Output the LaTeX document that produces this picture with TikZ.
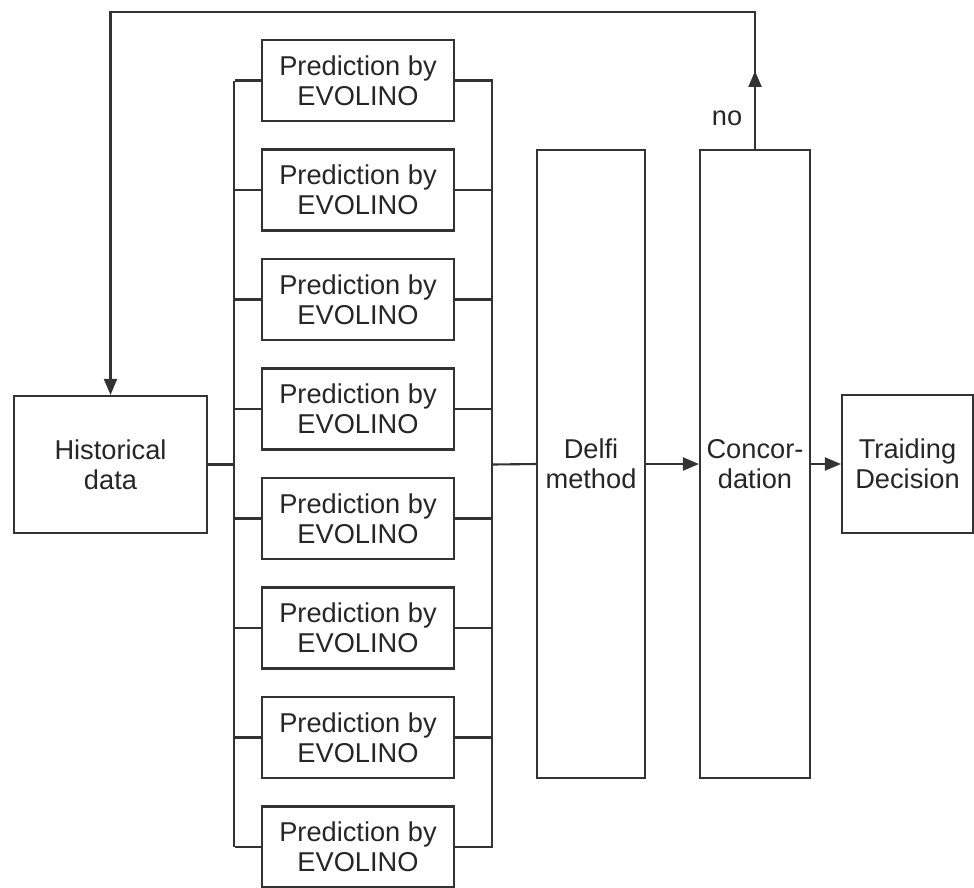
\documentclass[tikz,border=0pt]{standalone}
\usepackage{fontspec}
\setmainfont{Liberation Sans}
\usetikzlibrary{arrows.meta}

\begin{document}
\begin{tikzpicture}[
    box/.style={draw=black!80, line width=1.2pt, align=center, inner sep=0pt,
      font=\fontsize{15.5}{17}\selectfont, text=black!85},
    wire/.style={draw=black!80, line width=1.2pt},
    tip/.style={-{Triangle[length=3.2mm,width=2.6mm]}}
  ]
  \useasboundingbox (0,0) rectangle (19.48,-17.74);
  % dati e decisione
  \node[box, minimum width=3.86cm, minimum height=2.74cm] (hist) at (2.21,-9.29) {Historical\\data};
  \node[box, minimum width=2.16cm, minimum height=12.56cm] (delfi) at (11.82,-9.28) {Delfi\\method};
  \node[box, minimum width=2.2cm, minimum height=12.56cm] (conc) at (15.10,-9.28) {Concor-\\dation};
  \node[box, minimum width=2.62cm, minimum height=2.76cm] (trade) at (18.15,-9.28) {Traiding\\Decision};
  % otto previsioni in parallelo
  \foreach \i in {1,...,8}{
    \node[box, minimum width=3.84cm, minimum height=1.62cm] (pred\i) at (7.16,{-1.61-2.19*(\i-1)}) {Prediction by\\EVOLINO};
    \draw[wire] (pred\i.west) -- ++(-0.52,0);
    \draw[wire] (pred\i.east) -- ++(0.76,0);
  }
  % le due sbarre verticali
  \coordinate (busL) at (4.68,-9.29);
  \coordinate (busR) at (9.84,-9.29);
  \draw[wire] (pred1.west -| busL) -- (pred8.west -| busL);
  \draw[wire] (pred1.east -| busR) -- (pred8.east -| busR);
  \draw[wire] (hist.east) -- (busL);
  \draw[wire] (busR) -- (delfi.west);
  \draw[wire, tip] (delfi.east) -- (conc.west);
  \draw[wire, tip] (conc.east) -- (trade.west);
  % ritorno "no"
  \coordinate (back) at (15.10,-0.24);
  \draw[wire, tip] (conc.north) -- ++(0,1.56);
  \draw[wire, tip] (conc.north) -- (back) -| (hist.north);
  \node[font=\fontsize{15.5}{17}\selectfont, text=black!85] (no) at (14.54,-2.36) {no};
\end{tikzpicture}
\end{document}
